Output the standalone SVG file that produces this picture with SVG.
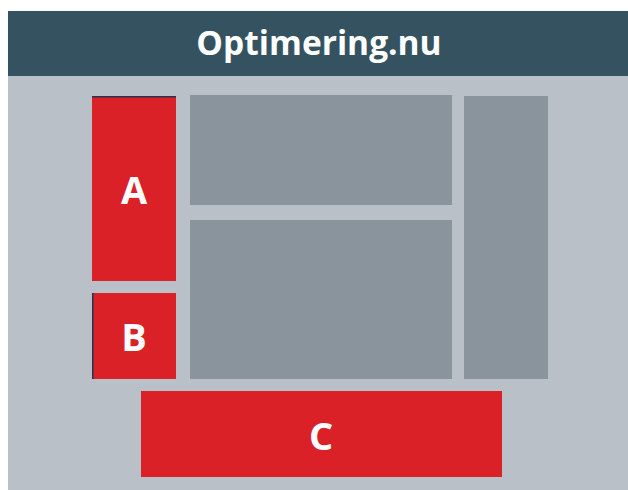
<svg xmlns="http://www.w3.org/2000/svg" width="628" height="490" viewBox="0 0 628 490">
<style>
.red{fill:#da2128}
.gray{fill:#8a949d}
.lbl{font-family:"Open Sans","Noto Sans",sans-serif;font-weight:bold;font-size:38px;fill:#ffffff;text-anchor:middle}
</style>
<rect x="8" y="11" width="620" height="479" fill="#b9c0c7"/>
<g id="header">
<rect x="8" y="11" width="620" height="65" fill="#34525f"/>
<text x="319" y="55" font-family="'Open Sans','Noto Sans',sans-serif" font-weight="bold" font-size="33.5" fill="#ffffff" text-anchor="middle">Optimering.nu</text>
</g>
<g id="A">
<rect class="red" x="92" y="96" width="84" height="185"/>
<rect x="92" y="96" width="84" height="1.5" fill="#1f3550"/>
<text class="lbl" x="134" y="204">A</text>
</g>
<g id="B">
<rect class="red" x="92" y="293" width="84" height="86"/>
<rect x="92" y="293" width="1.5" height="86" fill="#1f3550"/>
<text class="lbl" x="134" y="351">B</text>
</g>
<g id="C">
<rect class="red" x="141" y="391" width="361" height="86"/>
<text class="lbl" x="321" y="450">C</text>
</g>
<g id="top-panel"><rect class="gray" x="190" y="95" width="262" height="110"/></g>
<g id="main-panel"><rect class="gray" x="190" y="220" width="262" height="159"/></g>
<g id="side-panel"><rect class="gray" x="464" y="96" width="84" height="283"/></g>
<g id="connectors"></g>
</svg>
